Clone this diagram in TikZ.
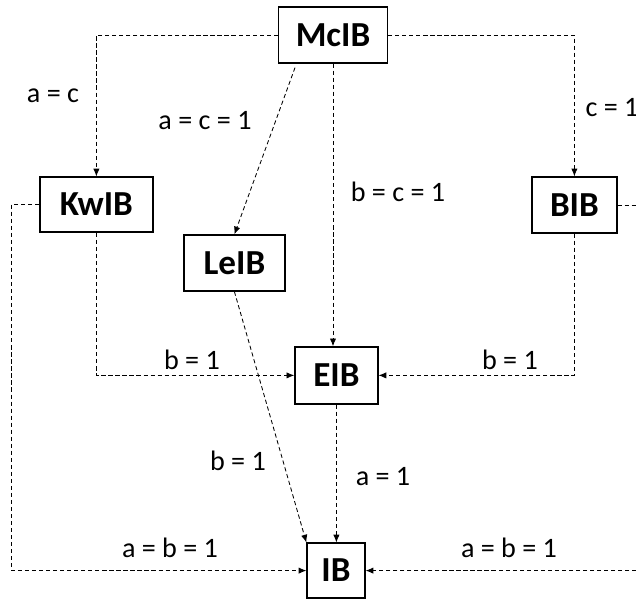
\documentclass[tikz,border=0pt]{standalone}
\usepackage{fontspec}
\setmainfont{Carlito}
\usetikzlibrary{arrows.meta}

\begin{document}
\begin{tikzpicture}[
    box/.style={draw, line width=0.9pt, inner sep=0pt, font=\fontsize{25}{28}\selectfont\bfseries},
    link/.style={dash pattern=on 3pt off 2pt, line width=0.6pt, -{Latex[length=5.5pt,width=4.5pt]}},
    lbl/.style={font=\fontsize{20}{24}\selectfont, inner sep=0pt}
]
    \useasboundingbox (0,0) rectangle (15.9,15.025);

    % Blocks
    \node[box, minimum width=2.725cm, minimum height=1.4cm] (McIB) at (8.325,14.15) {McIB};
    \node[box, minimum width=2.825cm, minimum height=1.375cm] (KwIB) at (2.41,9.91) {KwIB};
    \node[box, minimum width=2.125cm, minimum height=1.4cm] (BIB) at (14.36,9.9) {BIB};
    \node[box, minimum width=2.525cm, minimum height=1.4cm] (LeIB) at (5.86,8.45) {LeIB};
    \node[box, minimum width=2.075cm, minimum height=1.425cm] (EIB) at (8.41,5.64) {EIB};
    \node[box, minimum width=1.45cm, minimum height=1.375cm] (IB) at (8.4,0.76) {IB};

    % From McIB
    \draw[link] (McIB.west) -| (KwIB.north);
    \draw[link] (McIB.east) -| (BIB.north);
    \draw[link] ([xshift=-0.95cm,yshift=-0.1cm]McIB.south) -- (LeIB.north);
    \draw[link] (McIB.south) -- (McIB.south |- EIB.north);

    % Into EIB
    \draw[link] (KwIB.south) |- (EIB.west);
    \draw[link] (BIB.south) |- (EIB.east);

    % Into IB
    \draw[link] (EIB.south) -- (EIB.south |- IB.north);
    \draw[link] (LeIB.south) -- (IB.north west);
    \draw[link] (KwIB.west) -- ++(-0.7,0) |- (IB.west);
    \draw[link] (BIB.east) -- ++(1.2,0) |- (IB.east);

    % Labels
    \node[lbl] (l1) at (1.325,12.625) {a = c};
    \node[lbl] (l2) at (5.125,12.0) {a = c = 1};
    \node[lbl] (l3) at (9.95,10.225) {b = c = 1};
    \node[lbl] (l4) at (15.3,12.325) {c = 1};
    \node[lbl] (l5) at (4.8,6.025) {b = 1};
    \node[lbl] (l6) at (12.75,6.025) {b = 1};
    \node[lbl] (l7) at (5.95,3.5) {b = 1};
    \node[lbl] (l8) at (9.575,3.1) {a = 1};
    \node[lbl] (l9) at (4.25,1.325) {a = b = 1};
    \node[lbl] (l10) at (12.725,1.325) {a = b = 1};
\end{tikzpicture}
\end{document}
